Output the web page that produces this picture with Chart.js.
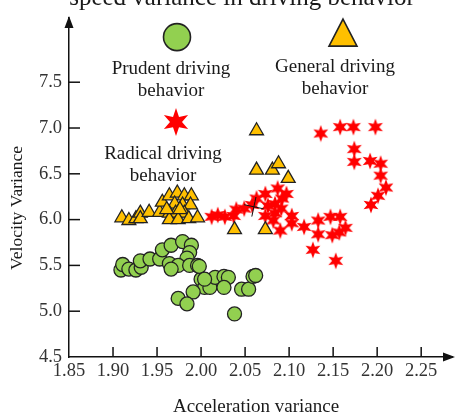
<!DOCTYPE html>
<html>
<head>
<meta charset="utf-8">
<script src="https://cdn.jsdelivr.net/npm/chart.js@4.4.1/dist/chart.umd.min.js"></script>
<style>
  html, body { margin: 0; padding: 0; background: #fff; }
  #wrap { width: 463px; height: 417px; }
</style>
</head>
<body>
<div id="wrap"><canvas id="chart" width="463" height="417"></canvas></div>
<script>
// values
const prudentX = [1.909,1.911,1.918,1.926,1.932,1.931,1.942,1.953,1.956,1.966,1.979,1.989,1.987,1.984,1.964,1.974,1.966,1.987,1.996,2.000,2.004,2.010,2.016,2.026,2.031,2.026,1.991,1.974,1.984,2.038,2.046,2.054,2.059,2.062,1.998,2.004];
const prudentY = [5.45,5.51,5.46,5.45,5.48,5.55,5.57,5.57,5.67,5.72,5.76,5.72,5.64,5.58,5.52,5.50,5.46,5.50,5.50,5.35,5.26,5.26,5.37,5.38,5.37,5.26,5.21,5.14,5.08,4.97,5.24,5.24,5.38,5.39,5.49,5.35];

const generalX = [1.910,1.918,1.926,1.931,1.931,1.941,1.953,1.956,1.964,1.973,1.981,1.989,1.970,1.979,1.988,1.964,1.971,1.981,1.964,1.974,1.986,1.996,1.961,1.976,2.063,2.063,2.081,2.088,2.099,2.038,2.073];
const generalY = [6.02,5.99,6.01,6.07,6.01,6.08,6.08,6.19,6.26,6.29,6.26,6.26,6.17,6.16,6.16,6.07,6.07,6.07,6.00,6.00,6.01,6.02,6.11,6.11,6.97,6.54,6.54,6.61,6.45,5.89,5.89];

const radicalX = [2.012,2.019,2.027,2.037,2.040,2.049,2.058,2.063,2.073,2.087,2.097,2.076,2.084,2.092,2.073,2.084,2.091,2.103,2.103,2.090,2.082,2.117,2.136,2.158,2.173,2.198,2.174,2.174,2.192,2.204,2.204,2.210,2.201,2.193,2.133,2.133,2.147,2.158,2.164,2.157,2.149,2.127,2.153];
const radicalY = [6.03,6.05,6.03,6.04,6.11,6.12,6.16,6.23,6.28,6.34,6.28,6.15,6.17,6.23,6.04,6.07,6.12,6.04,5.96,5.88,5.99,5.92,6.94,7.01,7.01,7.01,6.77,6.63,6.64,6.61,6.48,6.35,6.26,6.16,5.99,5.84,6.03,6.03,5.91,5.86,5.83,5.67,5.55];

const centreX = [2.060];
const centreY = [6.14];

const xTicks = [1.85,1.90,1.95,2.00,2.05,2.10,2.15,2.20,2.25];
const yTicks = [4.5,5.0,5.5,6.0,6.5,7.0,7.5];

const titleText = "speed variance in driving behavior";
const xTitle = "Acceleration variance";
const yTitle = "Velocity Variance";
const legendItems = [
  { label: ["Prudent driving", "behavior"], shape: "circle" },
  { label: ["General driving", "behavior"], shape: "triangle" },
  { label: ["Radical driving", "behavior"], shape: "star" }
];

const GREEN = "#92D050", YELLOW = "#FFC000", RED = "#FF0000", EDGE = "#222";
const SERIF = '"Liberation Serif", "DejaVu Serif", serif';

function pts(xs, ys){ return xs.map((x,i)=>({x:x, y:ys[i]})); }

function starPath(c, x, y, ro, ri){
  c.beginPath();
  for(let i=0;i<12;i++){
    const r = i%2===0 ? ro : ri;
    const a = -Math.PI/2 + i*Math.PI/6;
    const px = x + Math.cos(a)*r, py = y + Math.sin(a)*r;
    if(i===0) c.moveTo(px,py); else c.lineTo(px,py);
  }
  c.closePath();
}

// small star image used as point style
const starImg = document.createElement("canvas");
starImg.width = 18; starImg.height = 18;
(function(){
  const c = starImg.getContext("2d");
  starPath(c, 9, 9, 8.6, 3.8);
  c.fillStyle = RED;
  c.fill();
})();

// axis arrows, inward ticks, titles and the legend
const decor = {
  id: "decor",
  afterDraw(chart){
    const c = chart.ctx, a = chart.chartArea;
    const xs = chart.scales.x, ys = chart.scales.y;
    c.save();
    c.strokeStyle = "#111"; c.fillStyle = "#111"; c.lineWidth = 1.5;
    // tick marks pointing inside
    xTicks.forEach(v=>{
      const px = xs.getPixelForValue(v);
      if (v === xTicks[0]) return;
      c.beginPath(); c.moveTo(px, a.bottom); c.lineTo(px, a.bottom-10); c.stroke();
    });
    yTicks.forEach(v=>{
      const py = ys.getPixelForValue(v);
      if (v === yTicks[0]) return;
      c.beginPath(); c.moveTo(a.left, py); c.lineTo(a.left+11, py); c.stroke();
    });
    // arrow heads
    c.beginPath();
    c.moveTo(a.right+3, a.bottom); c.lineTo(a.right-9, a.bottom-4.5); c.lineTo(a.right-9, a.bottom+4.5);
    c.closePath(); c.fill();
    c.beginPath();
    c.moveTo(a.left, a.top-2); c.lineTo(a.left-4.5, a.top+10); c.lineTo(a.left+4.5, a.top+10);
    c.closePath(); c.fill();

    // titles
    c.fillStyle = "#1a1a1a";
    c.textAlign = "center";
    c.textBaseline = "alphabetic";
    c.font = "25px " + SERIF;
    c.fillText(titleText, 242, 5);
    c.font = "19px " + SERIF;
    c.fillText(xTitle, 256, 412);
    c.save();
    c.translate(22, 208); c.rotate(-Math.PI/2);
    c.font = "17.5px " + SERIF;
    c.fillText(yTitle, 0, 0);
    c.restore();

    // legend (sits inside the plot)
    const spots = [
      { mx: a.left+108, my: a.top+19, tx: a.left+102, ty: a.top+51 },
      { mx: a.left+274, my: a.top+16, tx: a.left+266, ty: a.top+49 },
      { mx: a.left+107, my: a.top+104, tx: a.left+94, ty: a.top+136 }
    ];
    legendItems.forEach((it, i)=>{
      const s = spots[i];
      c.lineWidth = 1.6; c.strokeStyle = EDGE;
      if(it.shape === "circle"){
        c.beginPath(); c.arc(s.mx, s.my, 13.5, 0, Math.PI*2);
        c.fillStyle = GREEN; c.fill(); c.stroke();
      } else if(it.shape === "triangle"){
        c.beginPath();
        c.moveTo(s.mx, s.my-15); c.lineTo(s.mx+14, s.my+12); c.lineTo(s.mx-14, s.my+12);
        c.closePath(); c.fillStyle = YELLOW; c.fill(); c.stroke();
      } else {
        starPath(c, s.mx, s.my, 14, 6);
        c.fillStyle = RED; c.fill();
      }
      c.fillStyle = "#1a1a1a";
      c.font = "19px " + SERIF;
      c.textBaseline = "middle";
      c.fillText(it.label[0], s.tx, s.ty);
      c.fillText(it.label[1], s.tx, s.ty+22);
    });
    c.restore();
  }
};

new Chart(document.getElementById("chart"), {
  type: "scatter",
  data: {
    datasets: [
      { label: "centre", data: pts(centreX, centreY), pointStyle: "cross", rotation: 12,
        pointRadius: 10, borderColor: "#111", borderWidth: 1, backgroundColor: "#111" },
      { label: "General driving behavior", data: pts(generalX, generalY), pointStyle: "triangle",
        pointRadius: 8, backgroundColor: YELLOW, borderColor: EDGE, borderWidth: 1.3 },
      { label: "Prudent driving behavior", data: pts(prudentX, prudentY), pointStyle: "circle",
        pointRadius: 7, backgroundColor: GREEN, borderColor: EDGE, borderWidth: 1.3 },
      { label: "Radical driving behavior", data: pts(radicalX, radicalY), pointStyle: starImg,
        pointRadius: 9, backgroundColor: RED, borderColor: RED }
    ]
  },
  options: {
    responsive: false,
    animation: false,
    events: [],
    layout: { padding: { left: 0, right: 2, top: 16, bottom: 0 } },
    plugins: { legend: { display: false }, tooltip: { enabled: false } },
    scales: {
      x: {
        type: "linear", min: 1.85, max: 2.285,
        afterBuildTicks: s => { s.ticks = xTicks.map(v=>({value:v})); },
        afterFit: s => { s.height = 60; },
        grid: { display: false, drawTicks: false },
        border: { display: true, color: "#111", width: 1.5 },
        ticks: { padding: 3, color: "#333", font: { family: SERIF, size: 18.5 },
                 callback: v => Number(v).toFixed(2) }
      },
      y: {
        type: "linear", min: 4.5, max: 8.2,
        afterBuildTicks: s => { s.ticks = yTicks.map(v=>({value:v})); },
        afterFit: s => { s.width = 69; },
        grid: { display: false, drawTicks: false },
        border: { display: true, color: "#111", width: 1.5 },
        ticks: { padding: 7, color: "#333", font: { family: SERIF, size: 18.5 },
                 callback: v => Number(v).toFixed(1) }
      }
    }
  },
  plugins: [decor]
});
</script>
</body>
</html>
